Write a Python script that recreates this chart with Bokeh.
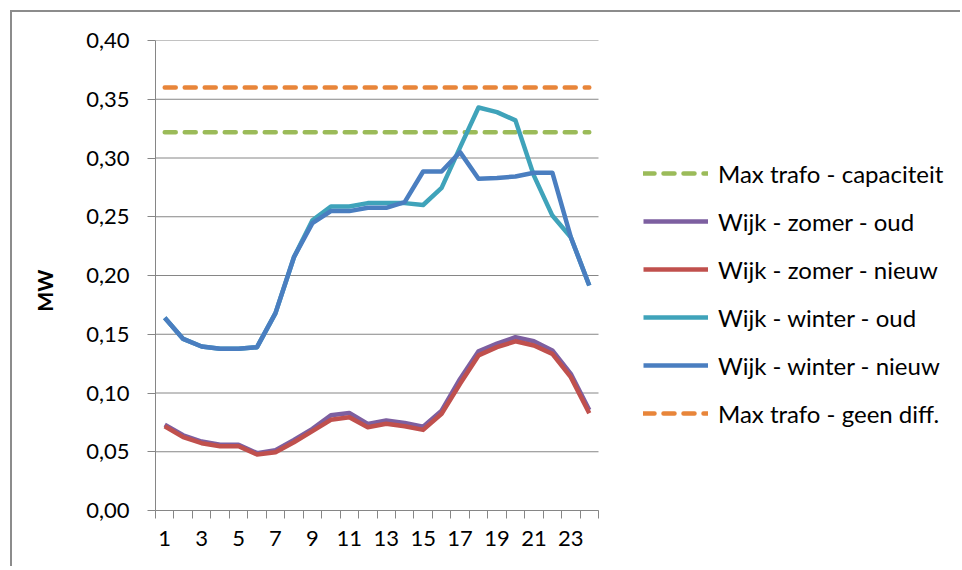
from bokeh.plotting import figure
from bokeh.models import (FixedTicker, CustomJSTickFormatter, Range1d, Legend, LegendItem)
from bokeh.embed import file_html
from bokeh.resources import INLINE

hours = list(range(1, 25))
x_tick_labels = [str(h) for h in range(1, 24, 2)]
y_ticks = [0.00, 0.05, 0.10, 0.15, 0.20, 0.25, 0.30, 0.35, 0.40]

max_trafo_capaciteit = [0.322] * 24
max_trafo_geen_diff = [0.360] * 24

zomer_oud = [0.0731, 0.0640, 0.0587, 0.0560, 0.0560, 0.0488, 0.0513, 0.0600,
             0.0695, 0.0810, 0.0830, 0.0737, 0.0766, 0.0745, 0.0714, 0.0850,
             0.1120, 0.1355, 0.1420, 0.1475, 0.1440, 0.1362, 0.1163, 0.0856]
zomer_nieuw = [0.0717, 0.0624, 0.0573, 0.0547, 0.0547, 0.0477, 0.0496, 0.0581,
               0.0675, 0.0772, 0.0794, 0.0709, 0.0738, 0.0717, 0.0686, 0.0823,
               0.1078, 0.1320, 0.1390, 0.1440, 0.1404, 0.1333, 0.1135, 0.0828]
winter_oud = [0.1640, 0.1460, 0.1396, 0.1376, 0.1376, 0.1390, 0.1680, 0.2156,
              0.2470, 0.2587, 0.2587, 0.2616, 0.2616, 0.2616, 0.2600, 0.2746,
              0.3090, 0.3430, 0.3390, 0.3320, 0.2850, 0.2510, 0.2326, 0.1915]
winter_nieuw = [0.1640, 0.1460, 0.1396, 0.1376, 0.1376, 0.1390, 0.1680, 0.2156,
                0.2445, 0.2548, 0.2548, 0.2576, 0.2576, 0.2624, 0.2885, 0.2885,
                0.3050, 0.2823, 0.2830, 0.2843, 0.2875, 0.2875, 0.2326, 0.1915]

names = ["Max trafo - capaciteit", "Wijk - zomer - oud", "Wijk - zomer - nieuw",
         "Wijk - winter - oud", "Wijk - winter - nieuw", "Max trafo - geen diff."]

FONT = "Lato"
GRAY = "#868686"

X_START, X_END = 0.5, 24.5
FRAME_W = 950 - 143
# the plotting frame also hosts the legend area to the right of the data
x_view_end = X_START + FRAME_W * (X_END - X_START) / 443.0

p = figure(width=950, height=556, output_backend="svg", toolbar_location=None,
           x_range=Range1d(X_START, x_view_end), y_range=Range1d(0, 0.40),
           min_border_left=143, min_border_right=0, min_border_top=28, min_border_bottom=58)
p.styles = {"border-top": "2px solid #8c8c8c", "border-left": "2px solid #8c8c8c",
            "margin-top": "10px", "margin-left": "10px"}
p.outline_line_color = None
p.background_fill_color = "white"
p.border_fill_color = "white"

# axes
p.xaxis.bounds = (X_START, X_END)
p.xaxis.ticker = FixedTicker(ticks=[float(v) for v in x_tick_labels],
                             minor_ticks=[h + 0.5 for h in range(0, 25)])
p.xaxis.major_tick_line_color = None
p.xaxis.minor_tick_out = 8
p.xaxis.minor_tick_in = 0
p.xaxis.minor_tick_line_color = GRAY
p.xaxis.axis_line_color = GRAY
p.xaxis.major_label_text_font = FONT
p.xaxis.major_label_text_font_size = "22px"
p.xaxis.major_label_text_color = "black"
p.xaxis.major_label_standoff = 12

p.yaxis.ticker = FixedTicker(ticks=y_ticks, minor_ticks=[])
p.yaxis.formatter = CustomJSTickFormatter(code="return tick.toFixed(2).replace('.', ',');")
p.yaxis.major_tick_out = 8
p.yaxis.major_tick_in = 0
p.yaxis.major_tick_line_color = GRAY
p.yaxis.axis_line_color = GRAY
p.yaxis.major_label_text_font = FONT
p.yaxis.major_label_text_font_size = "22px"
p.yaxis.major_label_text_color = "black"
p.yaxis.major_label_standoff = 18
p.yaxis.axis_label = "MW" + "\u00a0" * 6
p.yaxis.axis_label_text_font = FONT
p.yaxis.axis_label_text_font_size = "21px"
p.yaxis.axis_label_text_font_style = "bold"
p.yaxis.axis_label_text_color = "black"
p.yaxis.axis_label_standoff = 26

p.xgrid.grid_line_color = None
p.ygrid.grid_line_color = None
# horizontal gridlines limited to the data area
p.segment(x0=[X_START] * len(y_ticks), y0=y_ticks, x1=[X_END] * len(y_ticks), y1=y_ticks,
          line_color=GRAY, line_width=1)

LW = 4.5
r_cap = p.line(hours, max_trafo_capaciteit, line_color="#9BBB59", line_width=LW,
               line_dash="11 9", line_cap="round")
r_zo = p.line(hours, zomer_oud, line_color="#7D5FA0", line_width=LW, line_join="round")
r_zn = p.line(hours, zomer_nieuw, line_color="#C0504D", line_width=LW, line_join="round")
r_wo = p.line(hours, winter_oud, line_color="#3FA3BA", line_width=LW, line_join="round")
r_wn = p.line(hours, winter_nieuw, line_color="#4A7EC0", line_width=LW, line_join="round")
r_gd = p.line(hours, max_trafo_geen_diff, line_color="#E8853A", line_width=LW,
              line_dash="11 9", line_cap="round")

renderers = [r_cap, r_zo, r_zn, r_wo, r_wn, r_gd]
legend = Legend(items=[LegendItem(label=n, renderers=[r]) for n, r in zip(names, renderers)],
                location=(488, 82), orientation="vertical")
legend.background_fill_alpha = 0
legend.border_line_color = None
legend.padding = 0
legend.margin = 0
legend.spacing = 18
legend.glyph_width = 65
legend.glyph_height = 30
legend.label_height = 30
legend.label_standoff = 10
legend.label_text_font = FONT
legend.label_text_font_size = "24px"
legend.label_text_color = "black"
p.add_layout(legend, "center")

open("out.html", "w").write(file_html(p, INLINE))
